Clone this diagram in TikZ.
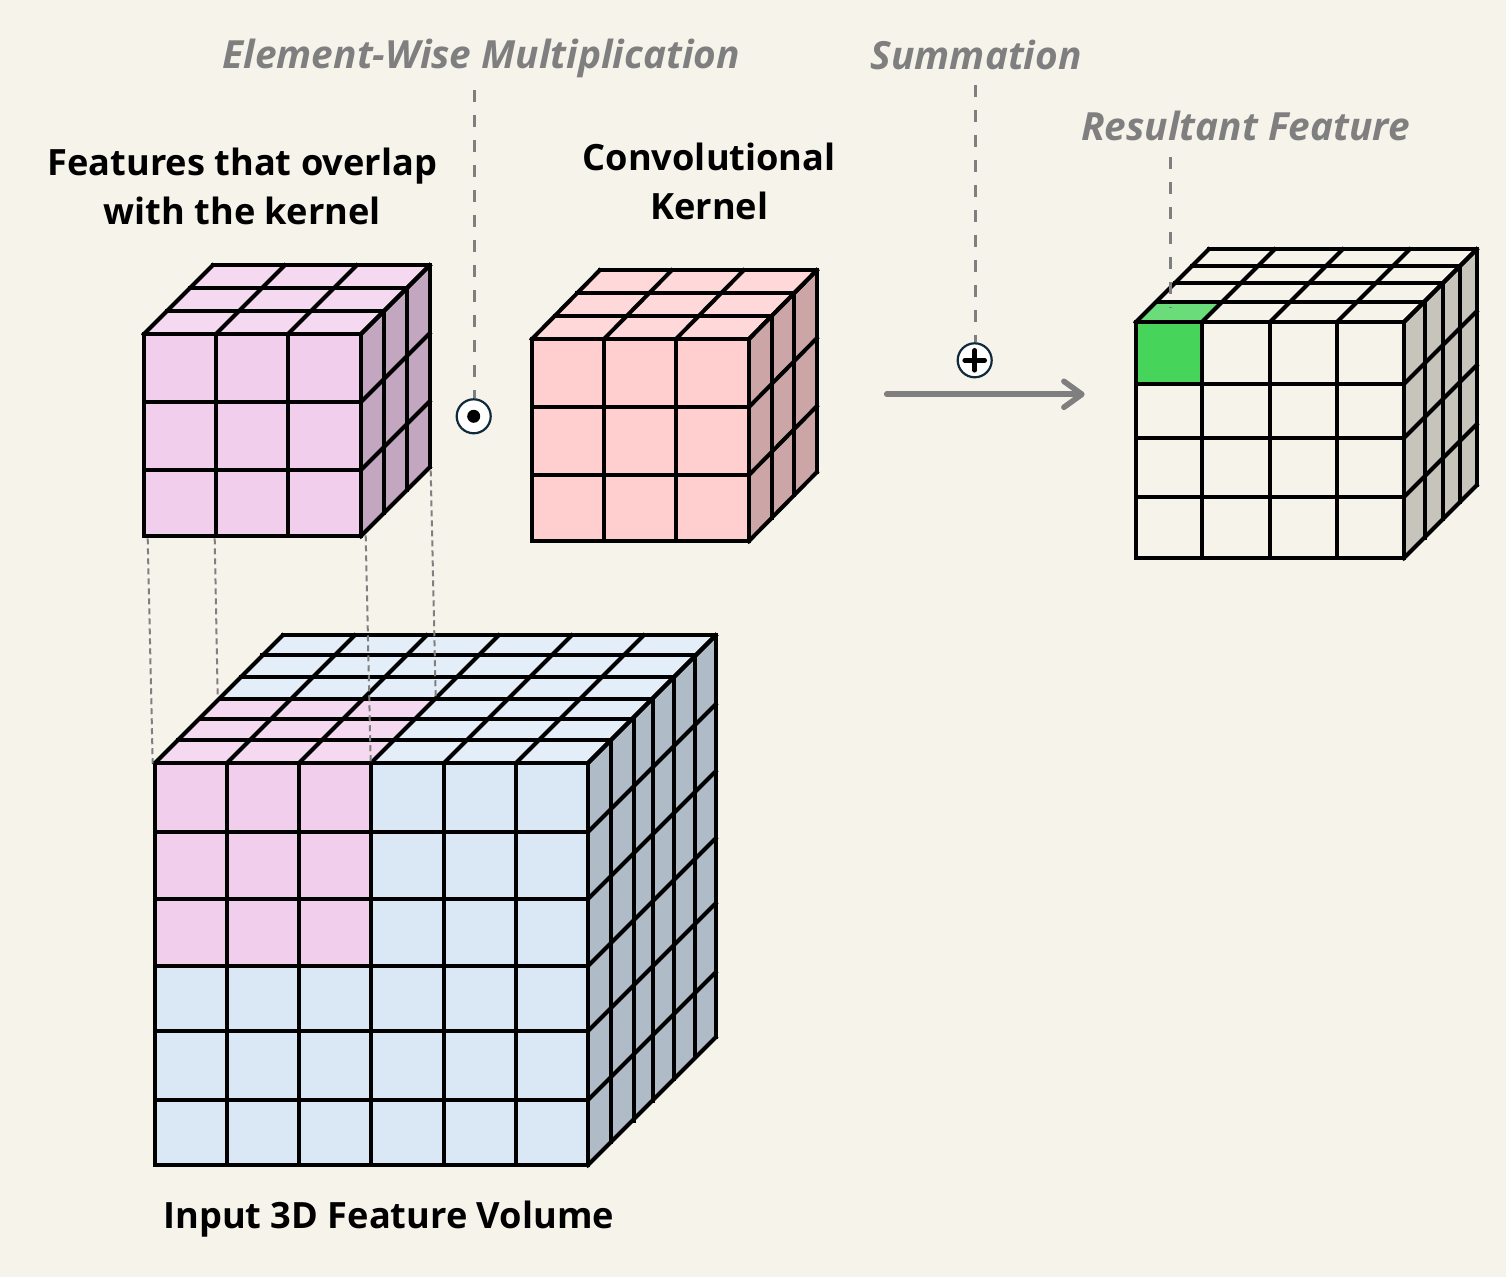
\documentclass[tikz,border=0pt]{standalone}
\usepackage{fontspec}
\setmainfont{Open Sans}
\usetikzlibrary{arrows.meta}
\definecolor{bg}{HTML}{F6F3EB}
\definecolor{greytxt}{HTML}{7F7F7F}
\definecolor{ringc}{HTML}{0F2A3A}
\definecolor{pinkF}{HTML}{F1CEEC}\definecolor{pinkT}{HTML}{F5D9F0}\definecolor{pinkS}{HTML}{C3A6BF}
\definecolor{roseF}{HTML}{FFCFCF}\definecolor{roseT}{HTML}{FFD9D9}\definecolor{roseS}{HTML}{CCA6A6}
\definecolor{blueF}{HTML}{DAE8F6}\definecolor{blueT}{HTML}{E4EEF8}\definecolor{blueS}{HTML}{AFBBC6}
\definecolor{plainS}{HTML}{C7C4BC}
\definecolor{greenF}{HTML}{47D45A}\definecolor{greenT}{HTML}{6ADC7A}
\tikzset{
 grid line/.style={line width=2pt,black,line cap=rect,line join=miter},
 title text/.style={font=\bfseries\fontsize{18.1}{24.5}\selectfont,align=center,text=black,inner sep=0pt},
 op text/.style={font=\bfseries\itshape\fontsize{19.4}{22}\selectfont,text=greytxt,inner sep=0pt},
 leader/.style={draw=greytxt,line width=1.5pt,dash pattern=on 6pt off 6.5pt},
 guide/.style={draw=greytxt,line width=1pt,dash pattern=on 3pt off 2pt},
 op circle/.style={circle,draw=ringc,line width=1.1pt,fill=white,minimum size=17pt,inner sep=0pt},
}
% faces: colours F,T,S ; x0 xn y0 yn Dx Dy
\newcommand{\cubefaces}[9]{%
 \fill[#1] (#4,#6) rectangle (#5,#7);
 \fill[#2] (#4,#6) -- ++(#8,-#9) -- (#5+#8,#6-#9) -- (#5,#6) -- cycle;
 \fill[#3] (#5,#6) -- (#5+#8,#6-#9) -- (#5+#8,#7-#9) -- (#5,#7) -- cycle;
}
% lines: xs ys levels x0 xn y0 yn Dx Dy
\newcommand{\cubelines}[9]{%
 \foreach \px in {#1} {
  \draw[grid line] (\px,#6) -- (\px,#7);
  \draw[grid line] (\px,#6) -- (\px+#8,#6-#9);
 }
 \foreach \py in {#2} {
  \draw[grid line] (#4,\py) -- (#5,\py);
  \draw[grid line] (#5,\py) -- (#5+#8,\py-#9);
 }
 \foreach \la/\lb in {#3} {
  \draw[grid line] (#4+\la,#6-\lb) -- (#5+\la,#6-\lb);
  \draw[grid line] (#5+\la,#6-\lb) -- (#5+\la,#7-\lb);
 }
}
\begin{document}
\begin{tikzpicture}[x=0.5pt,y=-0.5pt]
\useasboundingbox (0,0) rectangle (1506,1277);
\fill[bg] (0,0) rectangle (1506,1277);
\begin{scope}[shift={(-0.3,0.3)}]

% purple cube
\cubefaces{pinkF}{pinkT}{pinkS}{144}{361}{334}{536}{69}{69}
\cubelines{144,216,288,361}{334,402,470,536}{23/23,46/46,69/69}{144}{361}{334}{536}{69}{69}

% kernel cube
\cubefaces{roseF}{roseT}{roseS}{532}{749}{339}{541}{68}{69}
\cubelines{532,604,676,749}{339,407,475,541}{23/23,45/46,68/69}{532}{749}{339}{541}{68}{69}

% big cube
\cubefaces{blueF}{blueT}{blueS}{155}{588}{763}{1165}{128}{128}
\fill[pinkF] (155,763) rectangle (371,966);
\fill[pinkT] (155,763) -- (220,699) -- (436,699) -- (371,763) -- cycle;
\cubelines{155,227,299,371,444,516,588}{763,832,899,966,1031,1100,1165}{23/23,46/44,65/64,86/86,107/108,128/128}{155}{588}{763}{1165}{128}{128}

% result cube
\cubefaces{bg}{bg}{plainS}{1136}{1404}{322}{558}{73}{73}
\fill[greenF] (1136,322) rectangle (1202,384);
\fill[greenT] (1136,322) -- (1156,302) -- (1222,302) -- (1202,322) -- cycle;
\cubelines{1136,1202,1270,1337,1404}{322,384,438,497,558}{21/20,39/39,56/56,73/73}{1136}{1404}{322}{558}{73}{73}

% guides
\coordinate (gpa1) at (148,538); \coordinate (gba1) at (153,763);
\coordinate (gpa2) at (215,538); \coordinate (gba2) at (218,697);
\coordinate (gpa3) at (366,535); \coordinate (gba3) at (371,763);
\coordinate (gpa4) at (431,470); \coordinate (gba4) at (436,697);
\draw[guide] (gpa1) -- (gba1);
\draw[guide] (gpa2) -- (gba2);
\draw[guide] (gpa3) -- (gba3);
\draw[guide] (gpa4) -- (gba4);

% texts
\node[title text] (overlap) at (242.5,186.5) {Features that overlap\\with the kernel};
\node[title text] (kernel) at (709.5,181.5) {Convolutional\\Kernel};
\node[title text] (input) at (389,1219) {Input 3D Feature Volume};
\node[op text] (elem) at (481.5,58.5) {Element-Wise Multiplication};
\node[op text] (summ) at (976.5,55) {Summation};
\node[op text] (resf) at (1246,126) {Resultant Feature};

% operators
\node[op circle] (odot) at (474,416) {};
\fill[black] (odot.center) circle (6.5);
\node[op circle] (oplus) at (975,360) {};
\draw[black,line width=2.3pt,line cap=round] (oplus.center) ++(-10,0) -- ++(20,0);
\draw[black,line width=2.3pt,line cap=round] (oplus.center) ++(0,-10) -- ++(0,20);

% leaders
\coordinate (l1) at (475,90);
\coordinate (l2) at (976,85);
\coordinate (l3) at (1171,157);
\coordinate (l3e) at (1171,308);
\draw[leader] (l1) -- (odot.north -| l1);
\draw[leader] (l2) -- (oplus.north -| l2);
\draw[leader] (l3) -- (l3e);

% arrow
\coordinate (as) at (887,394);
\coordinate (ae) at (1085,394);
\draw[greytxt,line width=2.8pt,line cap=round,-{Straight Barb[length=9pt,width=13pt,round]}] (as) -- (ae);
\end{scope}
\end{tikzpicture}
\end{document}
